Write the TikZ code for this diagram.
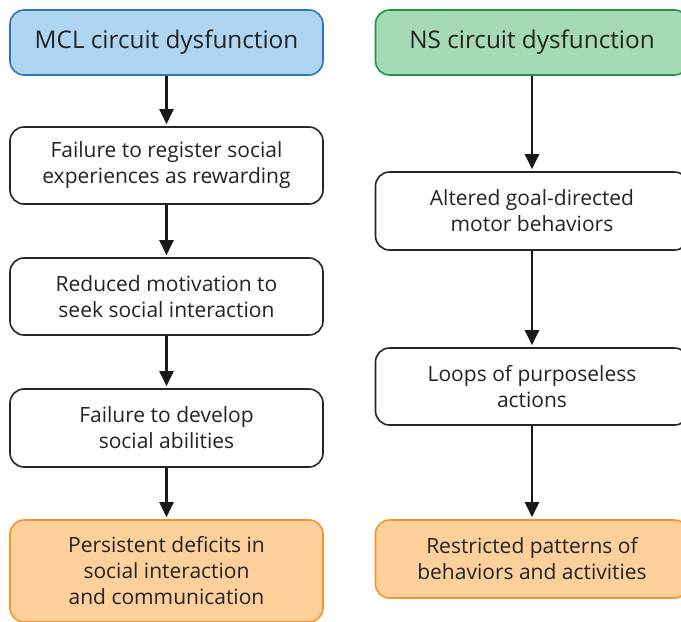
\documentclass[tikz,border=0pt]{standalone}
\usepackage{fontspec}
\setmainfont{Open Sans}
\usetikzlibrary{arrows.meta}
\definecolor{bluefill}{RGB}{174,214,242}
\definecolor{blueline}{RGB}{46,117,190}
\definecolor{greenfill}{RGB}{166,218,183}
\definecolor{greenline}{RGB}{30,150,70}
\definecolor{orangefill}{RGB}{253,208,155}
\definecolor{orangeline}{RGB}{247,148,40}
\definecolor{txt}{RGB}{35,35,35}
\tikzset{
  box/.style={draw=black!85, line width=1.6pt, rounded corners=14pt, fill=white,
    minimum width=313pt, align=center, text=txt, font=\fontsize{21}{26}\selectfont, inner sep=0pt},
  topbox/.style={box, font=\fontsize{24.3}{28}\selectfont},
  bluebox/.style={topbox, fill=bluefill, draw=blueline},
  greenbox/.style={topbox, fill=greenfill, draw=greenline},
  orangebox/.style={box, fill=orangefill, draw=orangeline},
  arr/.style={line width=2.2pt, draw=black!90, -{Triangle[length=15pt,width=14pt]}, shorten >=2pt}
}
\begin{document}
\begin{tikzpicture}[x=1pt,y=-1pt]
\useasboundingbox (0,0) rectangle (681,622);
\clip (0,0) rectangle (681,622);
% left column
\node[bluebox, minimum height=65pt] (l1) at (166.5,42.5) {MCL circuit dysfunction};
\node[box, minimum height=77pt] (l2) at (166.5,165.5) {Failure to register social\\experiences as rewarding};
\node[box, minimum height=77pt] (l3) at (166.5,296.5) {Reduced motivation to\\seek social interaction};
\node[box, minimum height=78pt] (l4) at (166.5,428) {Failure to develop\\social abilities};
\node[orangebox, minimum height=102pt] (l5) at (166.5,571) {Persistent deficits in\\social interaction\\and communication};
% right column
\node[greenbox, minimum height=65pt] (r1) at (532,42.5) {NS circuit dysfunction};
\node[box, minimum height=78pt] (r2) at (532,211) {Altered goal-directed\\motor behaviors};
\node[box, minimum height=77pt] (r3) at (532,386.5) {Loops of purposeless\\actions};
\node[orangebox, minimum height=78pt] (r4) at (532,559) {Restricted patterns of\\behaviors and activities};
% arrows
\draw[arr] (l1) -- (l2);
\draw[arr] (l2) -- (l3);
\draw[arr] (l3) -- (l4);
\draw[arr] (l4) -- (l5);
\draw[arr] (r1) -- (r2);
\draw[arr] (r2) -- (r3);
\draw[arr] (r3) -- (r4);
\end{tikzpicture}
\end{document}
